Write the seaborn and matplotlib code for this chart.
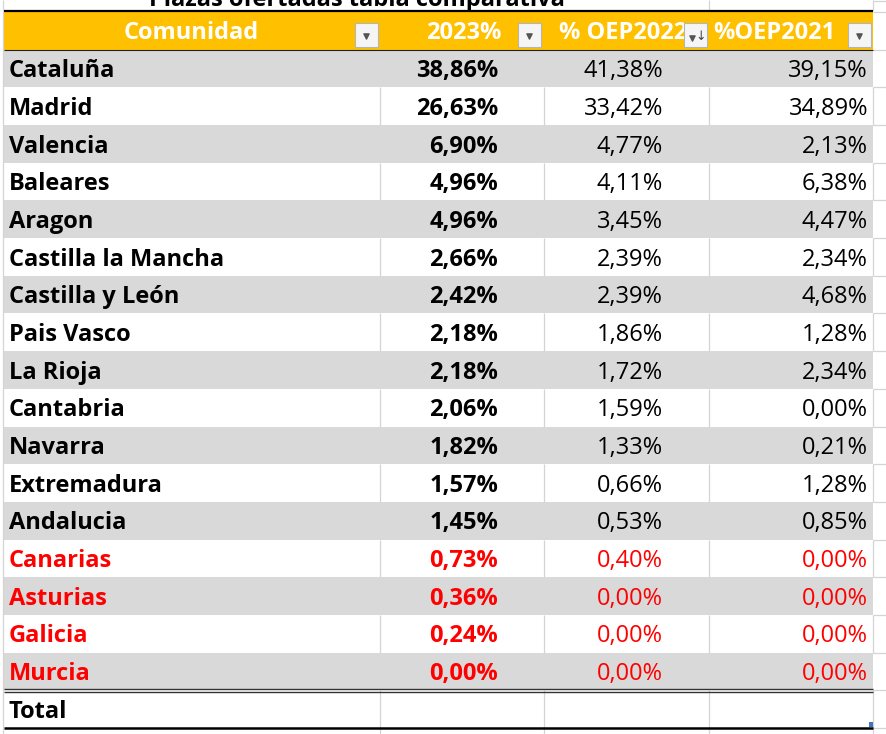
import numpy as np
import matplotlib.pyplot as plt
import seaborn as sns
from matplotlib.colors import ListedColormap
from matplotlib.patches import Rectangle

titulo = "Plazas ofertadas tabla comparativa"
cabeceras = ["Comunidad", "2023%", "% OEP2022", "%OEP2021"]
comunidades = ["Cataluña", "Madrid", "Valencia", "Baleares", "Aragon",
               "Castilla la Mancha", "Castilla y León", "Pais Vasco", "La Rioja",
               "Cantabria", "Navarra", "Extremadura", "Andalucia", "Canarias",
               "Asturias", "Galicia", "Murcia"]
pct_2023 = [38.86, 26.63, 6.90, 4.96, 4.96, 2.66, 2.42, 2.18, 2.18,
            2.06, 1.82, 1.57, 1.45, 0.73, 0.36, 0.24, 0.00]
pct_oep2022 = [41.38, 33.42, 4.77, 4.11, 3.45, 2.39, 2.39, 1.86, 1.72,
               1.59, 1.33, 0.66, 0.53, 0.40, 0.00, 0.00, 0.00]
pct_oep2021 = [39.15, 34.89, 2.13, 6.38, 4.47, 2.34, 4.68, 1.28, 2.34,
               0.00, 0.21, 1.28, 0.85, 0.00, 0.00, 0.00, 0.00]
fila_total = "Total"

sns.set_style("white")
plt.rcParams['font.family'] = ['Open Sans', 'DejaVu Sans']

def fmt(v):
    return f"{v:.2f}".replace(".", ",") + "%"

W, H = 886, 734
fig = plt.figure(figsize=(W / 100, H / 100), dpi=100)

# geometria de la tabla (pixeles)
x0, x1 = 4, 873
y_top, y_bot = 12, 728
nfilas = len(comunidades) + 2
rh = (y_bot - y_top) / nfilas
cols = [4, 380, 544, 709, 873]
rejilla = "#D4D4D4"
fs = 17

# bandas: 0 cabecera, 1 gris, 2 blanco
bandas = np.array([[0]] + [[1 + (i % 2)] for i in range(len(comunidades))] + [[2]])
hx = fig.add_axes([x0 / W, 1 - y_bot / H, (x1 - x0) / W, (y_bot - y_top) / H])
sns.heatmap(bandas, ax=hx, cmap=ListedColormap(["#FFC000", "#D9D9D9", "white"]),
            vmin=-0.5, vmax=2.5, cbar=False, xticklabels=False, yticklabels=False)
hx.set_zorder(0)

ax = fig.add_axes([0, 0, 1, 1])
ax.set_xlim(0, W)
ax.set_ylim(H, 0)
ax.axis("off")
ax.set_zorder(1)

tops = [y_top + i * rh for i in range(nfilas + 1)]

# rejilla de excel
for i in range(nfilas):
    if bandas[i, 0] == 2:
        ax.vlines(cols[1:], tops[i], tops[i + 1], color=rejilla, lw=0.9)
ax.hlines(tops, 873, W, color=rejilla, lw=0.9)
ax.vlines([3], 0, H, color=rejilla, lw=0.9)
ax.vlines([709, 873], 0, 11, color=rejilla, lw=0.9)
ax.vlines(cols[1:], y_bot, H, color=rejilla, lw=0.9)
ax.hlines([0.5], 873, W, color=rejilla, lw=0.9)

# bordes
ax.hlines(11, x0, x1, color="black", lw=1.6)
ax.hlines(tops[1], x0, x1, color="#222222", lw=0.8)
ax.hlines([tops[-2] - 1.6, tops[-2] + 1.6], x0, x1, color="#333333", lw=1.0)
ax.hlines(y_bot - 0.5, x0, x1, color="black", lw=1.8)

# titulo (cortado arriba, como en la captura)
ax.text(357, 6, titulo, ha="center", va="baseline", fontsize=fs,
        fontweight="bold", color="black")

# cabecera
base = 27.5
ax.text(191, tops[0] + base - 0.8, cabeceras[0], ha="center", va="baseline",
        fontsize=fs, fontweight="bold", color="white")
ax.text(501, tops[0] + base - 0.8, cabeceras[1], ha="right", va="baseline",
        fontsize=fs, fontweight="bold", color="white")
ax.text(559, tops[0] + base - 0.8, cabeceras[2], ha="left", va="baseline",
        fontsize=fs, fontweight="bold", color="white")
ax.text(713, tops[0] + base - 0.8, cabeceras[3], ha="left", va="baseline",
        fontsize=fs, fontweight="bold", color="white")

# botones de filtro
for bx in [355, 518, 684, 848]:
    ax.add_patch(Rectangle((bx, 23), 23, 24, facecolor="#F5F5F5",
                           edgecolor="#B5B5B5", lw=0.8, zorder=5))
    if bx == 684:
        ax.scatter([bx + 8], [38], marker="v", s=14, color="#555555", zorder=6)
        ax.text(bx + 16.5, 36, "↓", ha="center", va="center", fontsize=9,
                color="#444444", family=["DejaVu Sans"], zorder=6)
    else:
        ax.scatter([bx + 11.5], [36], marker="v", s=14, color="#555555", zorder=6)

# filas
for i, nom in enumerate(comunidades):
    yb = tops[i + 1] + base
    c = "#FF0000" if pct_2023[i] < 1 else "black"
    ax.text(9, yb, nom, ha="left", va="baseline", fontsize=fs,
            fontweight="bold", color=c)
    ax.text(498, yb, fmt(pct_2023[i]), ha="right", va="baseline", fontsize=fs,
            fontweight="bold", color=c)
    ax.text(663, yb, fmt(pct_oep2022[i]), ha="right", va="baseline", fontsize=fs,
            color=c)
    ax.text(868, yb, fmt(pct_oep2021[i]), ha="right", va="baseline", fontsize=fs,
            color=c)

ax.text(9, tops[-2] + base, fila_total, ha="left", va="baseline", fontsize=fs,
        fontweight="bold", color="black")

# asa de redimension
ax.add_patch(Rectangle((869, 722), 4, 5, facecolor="#4472C4", lw=0, zorder=5))

fig.savefig("out.png", dpi=100)
